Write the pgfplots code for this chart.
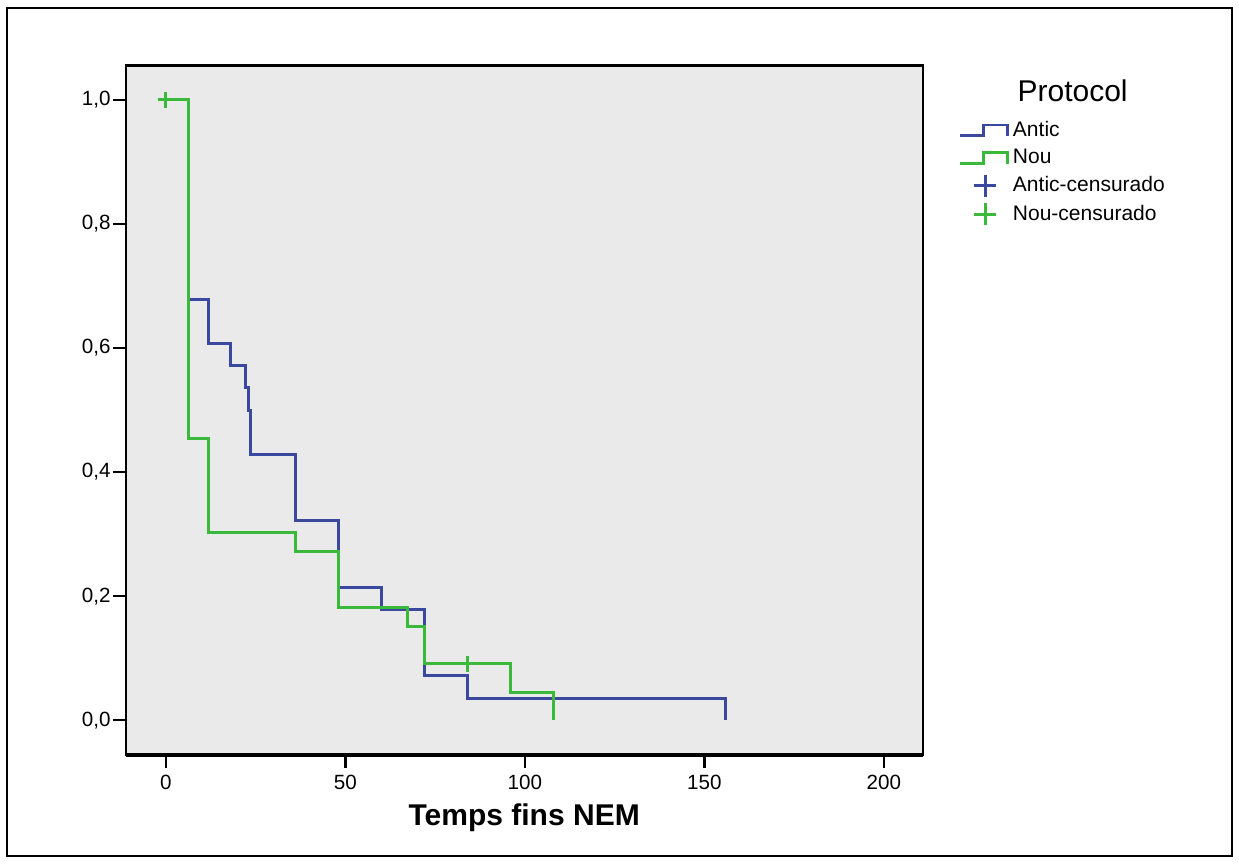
\documentclass[border=0pt]{standalone}
\usepackage{pgfplots}
\pgfplotsset{compat=1.18}
\usepackage{fontspec}
\setmainfont{Liberation Sans}
\definecolor{kmblue}{RGB}{58,72,158}
\definecolor{kmgreen}{RGB}{58,185,58}
\definecolor{kmbg}{RGB}{234,234,234}
\pgfplotsset{
  steplegend/.style={legend image code/.code={%
    \path[draw=none,fill=none] (0pt,-3.5pt) rectangle (24pt,3.5pt);
    \draw[#1,line width=1.4pt] (0pt,-2.6pt) -- (12pt,-2.6pt) -- (12pt,2.6pt) -- (24pt,2.6pt) -- (24pt,-2.8pt);}},
  censlegend/.style={legend image code/.code={%
    \path[draw=none,fill=none] (0pt,-3.5pt) rectangle (24pt,3.5pt);
    \begin{pgfinterruptboundingbox}
    \draw[#1,line width=1.4pt] (12.8pt,-5.5pt) -- (12.8pt,5.5pt) (7.3pt,0pt) -- (18.3pt,0pt);
    \end{pgfinterruptboundingbox}}},
}
\begin{document}
\begin{tikzpicture}
\useasboundingbox (0,0) rectangle (619.5pt,432pt);
\draw[line width=1pt] (3.5pt,4pt) rectangle (616pt,428pt);
\begin{axis}[
  at={(62.85pt,54.5pt)}, anchor=south west,
  scale only axis, width=398.5pt, height=344.65pt,
  xmin=-11.2, xmax=210.8, ymin=-0.056, ymax=1.055,
  axis background/.style={fill=kmbg},
  axis line style={line width=1.2pt},
  xtick={0,50,100,150,200},
  ytick={0,0.2,0.4,0.6,0.8,1.0},
  xtick pos=bottom, ytick pos=left,
  tick align=outside, major tick length=6.5pt,
  tick style={line width=1.2pt, black},
  /pgf/number format/assume math mode=true,
  tick label style={font=\fontsize{10.3}{12}\selectfont},
  yticklabel style={xshift=2.5pt, /pgf/number format/.cd, fixed, fixed zerofill, precision=1, use comma},
  xlabel={Temps fins NEM},
  xlabel style={font=\fontsize{15}{18}\selectfont\bfseries},
  legend style={at={(1.044,0.926)}, anchor=north west, draw=none, fill=none,
    font=\fontsize{10.5}{12}\selectfont, row sep=1.0pt, inner sep=0pt},
  legend cell align=left,
  after end axis/.code={\draw[line width=2.2pt] (rel axis cs:0,0) -- (rel axis cs:1,0);},
]
\addplot[kmblue, line width=1.5pt, const plot, steplegend=kmblue] coordinates {
(0,1) (6.4,0.6786) (12,0.6071) (18,0.5714) (22.3,0.5357) (23,0.5) (23.7,0.4286)
(36,0.3214) (48,0.2143) (60,0.1786) (72,0.0714) (84,0.0357) (156,0)
};
\addlegendentry{Antic}
\addplot[kmgreen, line width=1.5pt, const plot, steplegend=kmgreen] coordinates {
(0,1) (6.4,0.4545) (12,0.3030) (36,0.2727) (48,0.1818) (67.2,0.1515) (72,0.0909)
(96,0.0455) (108,0)
};
\addlegendentry{Nou}
\addlegendimage{censlegend=kmblue}
\addlegendentry{Antic-censurado}
\addplot[kmgreen, only marks, mark=+, mark size=4pt, line width=1.5pt, censlegend=kmgreen] coordinates {
(0,1) (84,0.0909)
};
\addlegendentry{Nou-censurado}
\end{axis}
\node[font=\fontsize{15}{18}\selectfont, anchor=base] at (536.3pt,381.2pt) {Protocol};
\end{tikzpicture}
\end{document}
